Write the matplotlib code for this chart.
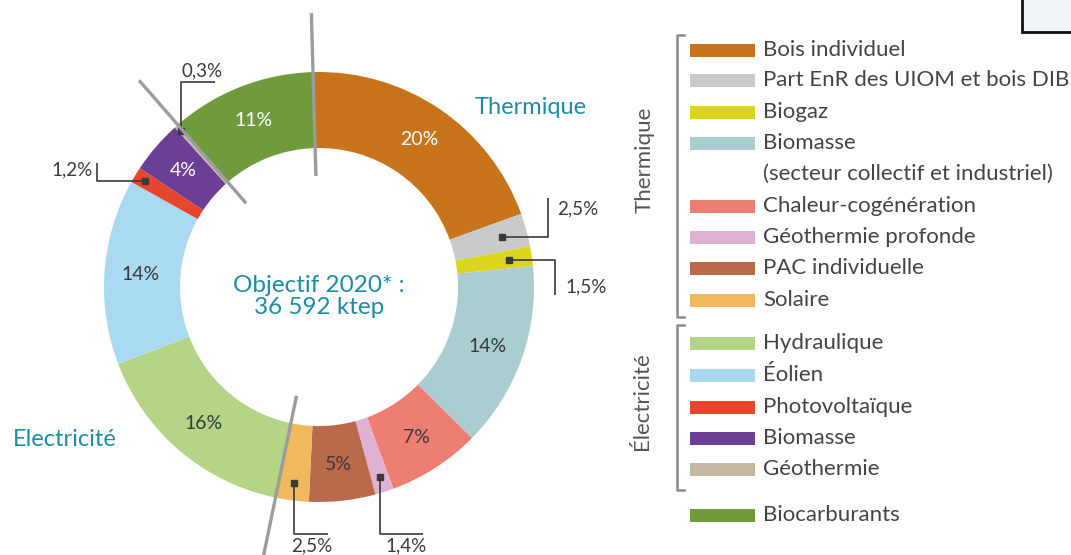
import numpy as np
import matplotlib
matplotlib.use("Agg")
import matplotlib.pyplot as plt
from matplotlib.patches import Rectangle

plt.rcParams['font.family'] = ['Lato', 'DejaVu Sans']

# --- Données (ordre horaire depuis le haut) ---
filieres = ["Bois individuel", "Part EnR des UIOM et bois DIB", "Biogaz",
            "Biomasse (secteur collectif et industriel)", "Chaleur-cogénération",
            "Géothermie profonde", "PAC individuelle", "Solaire",
            "Hydraulique", "Éolien", "Photovoltaïque", "Biomasse", "Géothermie",
            "Biocarburants"]
groupes = ["Thermique"] * 8 + ["Électricité"] * 5 + ["Biocarburants"]
parts = [20, 2.5, 1.5, 14, 7, 1.4, 5, 2.5,
         16, 14, 1.2, 4, 0.3,
         11]
etiquettes = ["20%", "2,5%", "1,5%", "14%", "7%", "1,4%", "5%", "2,5%",
              "16%", "14%", "1,2%", "4%", "0,3%",
              "11%"]
couleurs = ["#c8741a", "#c9cacc", "#dcd51e", "#aacdd1", "#ee7e72",
            "#dfb1d2", "#b86a4a", "#f0b95b",
            "#b4d486", "#a9daf2", "#e8462c", "#6a3f95", "#c5baa1",
            "#6f9b3d"]
objectif = "36 592 ktep"

# --- Mise en page (pixels, origine en bas à gauche) ---
W, H = 1071, 555
cx, cy = 319, H - 287
R, largeur = 215, 76
depart = 91.6
sombre = "#3a3a3a"
teal = "#1a8ea8"

fig = plt.figure(figsize=(W / 100, H / 100), dpi=100)
ax = fig.add_axes([0, 0, 1, 1])

ax.pie(parts, colors=couleurs, startangle=depart, counterclock=False,
       radius=R, center=(cx, cy),
       wedgeprops=dict(width=largeur, edgecolor='none'))
ax.set_xlim(0, W)
ax.set_ylim(0, H)
ax.set_aspect('equal')
ax.axis('off')

total = sum(parts)
cum = np.concatenate([[0], np.cumsum(parts)])
theta_deb = depart - 360 * cum[:-1] / total
theta_fin = depart - 360 * cum[1:] / total
theta_mil = (theta_deb + theta_fin) / 2


def polaire(r, th):
    t = np.deg2rad(th)
    return cx + r * np.cos(t), cy + r * np.sin(t)


# étiquettes dans l'anneau
blancs = {"Bois individuel", "Biomasse", "Biocarburants"}
for nom, lab, p, th in zip(filieres, etiquettes, parts, theta_mil):
    if p < 3:
        continue
    x, y = polaire(R - largeur / 2 + 2, th)
    ax.text(x, y, lab, ha='center', va='center', fontsize=14,
            color='white' if nom in blancs else sombre)

# petites étiquettes avec repères (coudes en pixels)
reperes = {
    1: dict(r=190, coude=[(548, 233), (548, 198)], txt=(557, 209), ha='left'),
    2: dict(r=192, coude=[(555, 258), (555, 295)], txt=(565, 287), ha='left'),
    5: dict(r=200, coude=[(None, 534), (423, 534)], txt=(406, 546), ha='center'),
    7: dict(r=198, coude=[(None, 534), (328, 534)], txt=(312, 546), ha='center'),
    10: dict(r=204, coude=[(97, 177), (97, 163)], txt=(93, 170), ha='right'),
    12: dict(r=208, coude=[(None, 82), (215, 82)], txt=(202, 71), ha='center'),
}
for i, d in reperes.items():
    mx, my = polaire(d['r'], theta_mil[i])
    xs, ys = [mx], [my]
    for (px, py) in d['coude']:
        xs.append(mx if px is None else px)
        ys.append(H - py)
    if d['coude'][0][0] is not None:
        ys[1] = my
    ax.plot(xs, ys, color=sombre, lw=1.2, solid_capstyle='butt')
    ax.plot(mx, my, 's', color=sombre, ms=4)
    ax.text(d['txt'][0], H - d['txt'][1], etiquettes[i], ha=d['ha'],
            va='center', fontsize=13.5, color=sombre)

# séparateurs gris entre groupes
for th in [theta_deb[0], theta_deb[8], theta_deb[13]]:
    (x0, y0), (x1, y1) = polaire(111, th), polaire(274, th)
    ax.plot([x0, x1], [y0, y1], color="#9c9c9c", lw=2.4, solid_capstyle='butt')

# textes du graphique
ax.text(cx, H - 285, "Objectif 2020* :", ha='center', va='center',
        fontsize=17.5, color=teal)
ax.text(cx, H - 307, objectif, ha='center', va='center', fontsize=17.5, color=teal)
ax.text(531, H - 108, "Thermique", ha='center', va='center', fontsize=17, color=teal)
ax.text(65, H - 440, "Electricité", ha='center', va='center', fontsize=17, color=teal)

# légende
lignes_y = {0: 50, 1: 80, 2: 112, 3: 143, 4: 206, 5: 237, 6: 268, 7: 300,
            8: 343, 9: 375, 10: 407, 11: 438, 12: 469, 13: 515}
for i, (nom, c) in enumerate(zip(filieres, couleurs)):
    y = H - lignes_y[i]
    ax.add_patch(Rectangle((690, y - 6.5), 65, 13, color=c, lw=0))
    if "(" in nom:
        premier, second = nom.split(" (", 1)
        ax.text(763, y, premier, va='center', fontsize=16, color="#444444")
        ax.text(763, y - 31, "(" + second, va='center', fontsize=16, color="#444444")
    else:
        ax.text(763, y, nom, va='center', fontsize=16, color="#444444")

# accolades des groupes
for nom, (y0, y1), (xl, yl) in [("Thermique", (35, 317), (645, 160)),
                                ("Électricité", (325, 490), (642, 401))]:
    ax.plot([684, 677, 677, 684], [H - y0, H - y0, H - y1, H - y1],
            color="#8a8a8a", lw=1.8)
    ax.text(xl, H - yl, nom, rotation=90, ha='center', va='center',
            fontsize=16, color="#555555")

# encadré en haut à droite
ax.add_patch(Rectangle((1022, H - 32), 60, 40, facecolor="#eef4f8",
                       edgecolor="#111111", lw=2))

fig.savefig("out.png", dpi=100)
